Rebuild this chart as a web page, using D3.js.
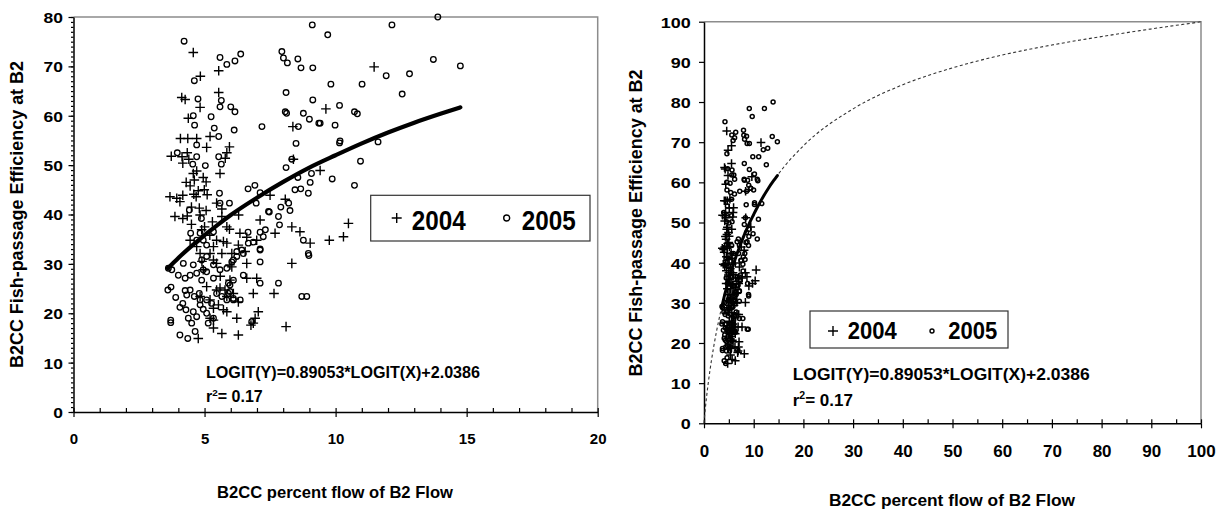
<!DOCTYPE html>
<html><head><meta charset="utf-8">
<script src="https://cdn.jsdelivr.net/npm/d3@7/dist/d3.min.js"></script>
<style>
body{margin:0;background:#fff}
text{font-family:"Liberation Sans",Arial,sans-serif;font-weight:bold;fill:#000}
</style>
</head><body>
<svg id="c" width="1217" height="511"></svg>
<script>
// ---------- data ----------
const x2004 = [4.57,4.84,5.54,5.54,4.13,4.26,4.83,4.38,8.37,4.08,4.36,4.70,5.21,5.08,5.95,5.85,3.73,4.14,4.34,4.40,4.17,4.57,4.70,5.59,5.79,8.39,4.61,5.06,4.45,4.76,4.59,4.99,3.68,3.94,4.06,4.17,4.68,5.46,5.66,4.80,5.06,4.17,4.34,6.30,7.50,8.08,7.12,8.33,8.64,9.03,4.89,4.45,5.85,5.95,6.35,6.61,5.46,5.34,6.99,7.69,11.47,9.63,9.41,10.49,10.30,9.76,4.76,5.66,6.29,5.34,5.34,6.86,7.05,6.23,5.85,5.53,5.34,6.29,6.10,5.78,5.46,5.08,6.86,7.65,8.11,6.61,6.99,6.61,5.97,6.04,5.66,5.34,4.83,4.95,8.33,5.21,4.83,3.87,4.83,5.66,5.72,5.21,5.46,4.70,5.59,5.85,5.72,5.21,5.85,6.29,6.55,6.04,5.97,6.93,6.77,4.50,5.00,5.20,4.90,5.60,5.10,4.30,4.50,5.30,4.95];
const y2004 = [72.8,68.0,69.1,64.7,63.7,63.3,61.7,59.5,57.8,55.4,55.4,55.4,55.8,53.6,53.7,52.5,51.8,51.7,52.5,51.2,50.4,48.3,48.8,48.3,51.4,51.2,47.0,46.6,45.8,44.8,44.1,45.0,43.6,43.3,42.6,43.9,43.6,42.3,41.1,41.3,40.8,39.2,39.7,39.9,43.9,43.1,38.9,37.5,36.5,34.2,36.9,34.8,37.5,37.0,36.2,35.4,34.8,33.5,34.8,36.2,69.9,61.4,48.9,38.2,35.5,34.8,14.9,15.9,15.6,18.6,17.0,18.0,20.3,19.0,20.3,21.7,21.0,22.3,24.0,24.7,24.7,25.4,24.0,24.0,17.3,27.1,27.1,30.1,29.8,32.1,32.1,30.8,32.1,28.8,30.1,22.7,23.4,39.6,39.9,39.6,34.5,32.1,30.1,33.5,25.1,23.4,20.7,19.0,34.2,33.8,32.5,29.4,26.7,19.0,17.6,38.0,37.5,35.8,30.5,27.5,44.0,46.5,41.5,38.5,47.5];

const x2005 = [4.22,5.59,5.85,6.16,6.38,4.61,4.75,5.64,5.59,6.00,6.16,4.57,4.62,5.25,5.37,5.54,6.13,7.19,3.96,4.70,4.70,4.55,5.03,5.54,5.64,5.57,5.95,4.42,4.88,6.66,6.92,6.97,7.12,7.47,7.82,7.91,8.21,8.26,8.11,8.56,8.45,8.67,8.96,9.03,9.08,8.49,8.11,8.08,8.13,8.77,9.00,8.58,9.36,9.13,7.95,8.01,8.16,8.56,8.68,9.13,9.11,6.66,6.86,7.12,7.32,7.24,7.12,7.86,8.96,5.08,5.34,4.83,5.59,4.47,4.95,
9.70,12.15,13.90,13.73,14.76,9.82,11.01,11.93,12.82,12.54,10.15,9.41,9.98,10.72,10.83,10.15,10.17,11.62,10.95,9.87,10.72,8.77,8.98,8.33,
3.62,3.75,4.00,3.60,3.72,3.90,4.17,4.26,4.45,4.06,4.29,4.38,4.51,3.71,3.71,4.06,4.36,4.64,4.70,4.57,4.83,4.95,5.08,5.14,5.34,4.80,4.32,4.61,4.83,5.08,5.27,5.46,5.66,5.91,6.10,5.97,5.85,4.26,4.45,4.70,4.89,5.08,5.34,5.59,5.85,6.10,6.48,7.12,7.12,7.82,8.71,8.90,6.23,4.89,4.57,4.19,6.48,5.34,6.10,6.80,
4.70,5.08,4.95,6.67,7.12,6.23,6.42,6.04,5.91,5.97,6.10,6.36,7.44];
const y2005 = [75.1,71.8,70.4,71.1,72.5,67.1,63.4,63.1,61.8,61.8,60.8,60.0,58.1,59.8,57.5,55.8,57.1,57.8,52.5,54.1,51.7,50.2,49.9,51.7,50.2,44.3,42.3,40.9,39.2,45.2,45.9,42.3,44.4,40.5,39.6,41.5,42.3,40.8,49.5,47.5,45.0,45.2,44.3,46.5,48.3,54.4,64.7,60.8,60.5,60.5,59.3,57.8,58.5,63.2,73.0,71.7,70.7,71.5,69.7,69.7,78.4,36.4,34.4,36.4,36.9,35.5,33.0,37.9,32.1,33.8,36.5,36.2,42.3,36.2,34.8,
76.4,78.4,80.0,71.4,70.1,66.4,66.4,68.1,68.5,64.4,62.1,58.5,58.1,60.8,60.4,54.5,54.9,54.7,50.8,47.2,45.9,34.8,31.7,51.2,
29.1,28.8,27.7,24.7,25.3,23.2,22.0,24.6,24.7,21.2,20.7,19.0,18.0,18.6,18.1,15.6,14.9,16.3,19.3,20.3,21.7,20.8,20.0,18.0,19.0,24.0,23.7,23.4,22.7,22.7,22.0,24.0,23.4,24.0,22.7,25.7,22.7,27.1,27.7,28.1,26.7,28.4,27.1,28.8,29.1,30.8,27.7,30.4,26.1,26.1,23.4,23.4,31.5,30.8,29.8,30.1,32.1,29.8,26.7,18.3,
34.8,31.5,28.8,34.2,32.8,32.5,32.8,30.4,26.1,24.4,23.0,22.7,40.6];

// fitted curve LOGIT(Y)=0.89053*LOGIT(X)+2.0386 (values listed)
const fitX = [3.6,4,4.5,5,5.5,6,7,8,9,10,11,12,13,14,14.76];
const fitY = [29.1,31.2,33.6,35.8,37.9,39.9,43.4,46.6,49.5,52.0,54.4,56.6,58.6,60.4,61.7];
const fullX = [0,0.1,0.2,0.5,1,2,3,4,5,7,10,14.76,20,30,40,50,60,70,80,90,95,99,100];
const fullY = [0,1.6,2.9,6.4,11.4,19.4,25.8,31.2,35.8,43.4,52.0,61.7,69.1,78.3,84.3,88.5,91.7,94.2,96.3,98.2,99.1,99.8,100];

const leftXTicks = [0,5,10,15,20];
const leftYTicks = [0,10,20,30,40,50,60,70,80];
const rightTicks = [0,10,20,30,40,50,60,70,80,90,100];
const seriesNames = ["2004","2005"];
const xTitle = "B2CC percent flow of B2 Flow";
const yTitle = "B2CC Fish-passage Efficiency at B2";
const eqText = "LOGIT(Y)=0.89053*LOGIT(X)+2.0386";
const r2Text = "= 0.17";

// ---------- drawing ----------
const svg = d3.select("#c");
svg.append("rect").attr("width",1217).attr("height",511).attr("fill","#fff");

const pts04 = x2004.map((x,i)=>({x, y:y2004[i]}));
const pts05 = x2005.map((x,i)=>({x, y:y2005[i]}));
const fit = fitX.map((x,i)=>({x, y:fitY[i]}));
const full = fullX.map((x,i)=>({x, y:fullY[i]}));

function styleAxis(g){
  g.selectAll(".domain").attr("stroke","#000").attr("stroke-width",1.5);
  g.selectAll(".tick line").attr("stroke","#000").attr("stroke-width",1.2);
}

function panel(o){
  const g = svg.append("g");
  const xs = d3.scaleLinear().domain(o.xd).range(o.xr);
  const ys = d3.scaleLinear().domain(o.yd).range(o.yr);
  g.append("path").attr("d",`M${o.xr[0]},${o.yr[1]}H${o.xr[1]}V${o.yr[0]}`)
    .attr("fill","none").attr("stroke","#8c8c8c").attr("stroke-width",1.5);

  const mx = g.append("g").attr("transform",`translate(0,${o.yr[0]})`)
    .call(d3.axisBottom(xs).tickValues(o.xMinor).tickSize(-4).tickFormat(""));
  mx.select(".domain").remove(); styleAxis(mx);
  if(o.yMinor){
    const my = g.append("g").attr("transform",`translate(${o.xr[0]},0)`)
      .call(d3.axisLeft(ys).tickValues(o.yMinor).tickSize(2.5).tickFormat(""));
    my.select(".domain").remove(); styleAxis(my);
  }
  const ax = g.append("g").attr("transform",`translate(0,${o.yr[0]})`)
    .call(d3.axisBottom(xs).tickValues(o.xTicks).tickSizeInner(5).tickSizeOuter(0));
  styleAxis(ax);
  ax.selectAll("text").attr("y",o.xLabY).attr("dy",null)
    .style("font-size",o.xFont+"px").attr("fill","#000");
  const ay = g.append("g").attr("transform",`translate(${o.xr[0]},0)`)
    .call(d3.axisLeft(ys).tickValues(o.yTicks).tickSizeInner(5).tickSizeOuter(0));
  styleAxis(ay);
  ay.selectAll("text").attr("x",-o.yLabOff).attr("dy","0.36em")
    .style("font-size",o.yFont+"px").attr("fill","#000")
    .attr("textLength",d=>String(d).length*o.yDigitW).attr("lengthAdjust","spacingAndGlyphs");

  if(o.dashed){
    g.append("path").datum(full)
      .attr("d",d3.line().x(d=>xs(d.x)).y(d=>ys(d.y)).curve(d3.curveMonotoneX))
      .attr("fill","none").attr("stroke","#333").attr("stroke-width",1.1).attr("stroke-dasharray","3,2.5");
  }
  const pa = o.plus;
  g.append("g").selectAll("path").data(pts04).join("path")
    .attr("d",d=>`M${xs(d.x)-pa},${ys(d.y)}h${2*pa}M${xs(d.x)},${ys(d.y)-pa}v${2*pa}`)
    .attr("stroke","#000").attr("stroke-width",o.plusW).attr("fill","none");
  g.append("g").selectAll("circle").data(pts05).join("circle")
    .attr("cx",d=>xs(d.x)).attr("cy",d=>ys(d.y)).attr("r",o.cr)
    .attr("fill","none").attr("stroke","#000").attr("stroke-width",o.cw);
  g.append("path").datum(fit)
    .attr("d",d3.line().x(d=>xs(d.x)).y(d=>ys(d.y)).curve(d3.curveMonotoneX))
    .attr("fill","none").attr("stroke","#000").attr("stroke-width",o.fitW).attr("stroke-linecap","round");

  const L = o.leg;
  g.append("rect").attr("x",L.x).attr("y",L.y).attr("width",L.w).attr("height",L.h)
    .attr("fill","#fff").attr("stroke","#333").attr("stroke-width",1.2);
  g.append("path").attr("d",`M${L.p1-L.ps},${L.my}h${2*L.ps}M${L.p1},${L.my-L.ps}v${2*L.ps}`)
    .attr("stroke","#000").attr("stroke-width",1.4);
  g.append("circle").attr("cx",L.c1).attr("cy",L.my).attr("r",L.cr)
    .attr("fill","none").attr("stroke","#000").attr("stroke-width",1.4);
  g.append("text").attr("x",L.t1).attr("y",L.base).style("font-size",L.fs+"px")
    .attr("textLength",L.tw).attr("lengthAdjust","spacingAndGlyphs").text(seriesNames[0]);
  g.append("text").attr("x",L.t2).attr("y",L.base).style("font-size",L.fs+"px")
    .attr("textLength",L.tw).attr("lengthAdjust","spacingAndGlyphs").text(seriesNames[1]);

  g.append("text").attr("x",o.eq.x).attr("y",o.eq.y).style("font-size",o.eq.fs+"px")
    .attr("textLength",o.eq.w).attr("lengthAdjust","spacingAndGlyphs").text(eqText);
  const r = g.append("text").attr("x",o.eq.x).attr("y",o.eq.ry).style("font-size",o.eq.fs+"px");
  r.append("tspan").text("r");
  r.append("tspan").attr("dy",-o.eq.sup).style("font-size",(o.eq.fs*0.62)+"px").text("2");
  r.append("tspan").attr("dy",o.eq.sup).text(r2Text);

  g.append("text").attr("x",o.xt.x).attr("y",o.xt.y).attr("text-anchor","middle")
    .style("font-size",o.xt.fs+"px").attr("textLength",o.xt.w).attr("lengthAdjust","spacingAndGlyphs").text(xTitle);
  g.append("text").attr("transform",`translate(${o.yt.x},${o.yt.y}) rotate(-90)`).attr("text-anchor","middle")
    .style("font-size",o.yt.fs+"px").attr("textLength",o.yt.w).attr("lengthAdjust","spacingAndGlyphs").text(yTitle);
}

panel({
  xd:[0,20], xr:[73.5,597.7], yd:[0,80], yr:[412,17],
  xTicks:leftXTicks, yTicks:leftYTicks, xMinor:d3.range(0,21), yMinor:d3.range(0,81),
  xLabY:31.5, xFont:15, yLabOff:10.5, yFont:15, yDigitW:9.7,
  dashed:false, plus:4.8, plusW:1.4, cr:2.8, cw:1.3, fitW:4.2,
  leg:{x:370.7,y:195.3,w:219.3,h:45.7,my:218,p1:396.7,ps:5,c1:506.7,cr:3,t1:411.7,t2:521.7,base:230,fs:27,tw:54},
  eq:{x:206,y:378,ry:401.7,fs:16,w:274,sup:6},
  xt:{x:335,y:498,fs:17,w:236},
  yt:{x:23.3,y:214.5,fs:18,w:307}
});
panel({
  xd:[0,100], xr:[704,1201], yd:[0,100], yr:[423.3,21.7],
  xTicks:rightTicks, yTicks:rightTicks, xMinor:d3.range(0,101,5), yMinor:null,
  xLabY:34, xFont:17, yLabOff:13.3, yFont:15, yDigitW:10,
  dashed:true, plus:4.3, plusW:1.5, cr:2, cw:1.5, fitW:3,
  leg:{x:810,y:311,w:198,h:37,my:331,p1:833,ps:5,c1:932,cr:2,t1:847.7,t2:948.3,base:339.3,fs:23,tw:49},
  eq:{x:792.7,y:380,ry:406,fs:17,w:297,sup:7},
  xt:{x:952,y:506,fs:16,w:246},
  yt:{x:642,y:223,fs:18,w:307}
});
</script>
</body></html>
